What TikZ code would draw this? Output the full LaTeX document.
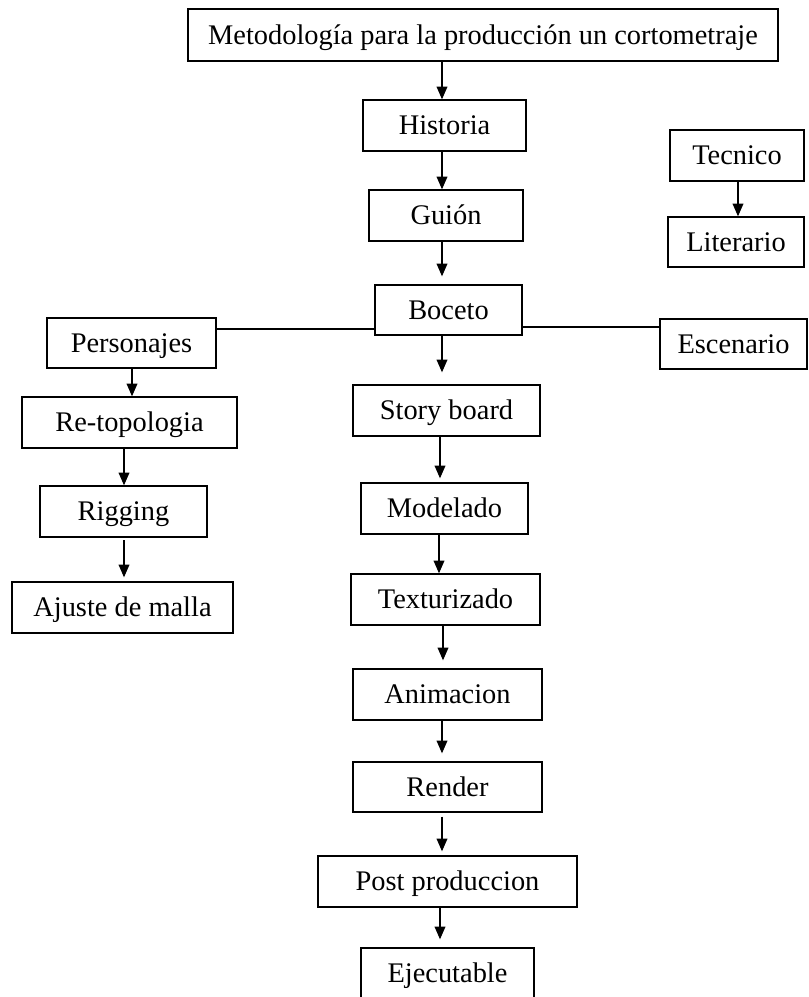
\documentclass[tikz,border=0pt]{standalone}
\usepackage{fontspec}
\setmainfont{Liberation Serif}
\usetikzlibrary{arrows.meta}
\def\px{0.75pt}
\tikzset{
  box/.style={draw=black, line width=1pt, rectangle, inner sep=0pt, fill=white,
    font=\fontsize{21.3}{24}\selectfont, text height=16pt, text depth=2pt},
  arr/.style={line width=1pt, -{Triangle[length=9.5pt,width=8pt]}},
  link/.style={line width=1pt}
}
\begin{document}
\begin{tikzpicture}[x=0.75pt,y=-0.75pt]
\useasboundingbox (0,0) rectangle (809,997);
\fill[white] (0,0) rectangle (809,997);
% central column
\node[box, minimum width=590*\px, minimum height=52*\px] (title) at (483,35) {Metodología para la producción un cortometraje};
\node[box, minimum width=163*\px, minimum height=51*\px] (hist) at (444.5,125.5) {Historia};
\node[box, minimum width=154*\px, minimum height=51*\px] (guion) at (446,215.5) {Guión};
\node[box, minimum width=147*\px, minimum height=50*\px] (boceto) at (448.5,310) {Boceto};
\node[box, minimum width=187*\px, minimum height=51*\px] (story) at (446.5,410.5) {Story board};
\node[box, minimum width=167*\px, minimum height=51*\px] (model) at (444.5,508.5) {Modelado};
\node[box, minimum width=189*\px, minimum height=51*\px] (text) at (445.5,599.5) {Texturizado};
\node[box, minimum width=189*\px, minimum height=51*\px] (anim) at (447.5,694.5) {Animacion};
\node[box, minimum width=189*\px, minimum height=50*\px] (render) at (447.5,787) {Render};
\node[box, minimum width=259*\px, minimum height=51*\px] (post) at (447.5,881.5) {Post produccion};
\node[box, minimum width=173*\px, minimum height=51*\px] (ejec) at (447.5,973.5) {Ejecutable};
% left column
\node[box, minimum width=169*\px, minimum height=50*\px] (pers) at (131.5,343) {Personajes};
\node[box, minimum width=215*\px, minimum height=51*\px] (retop) at (129.5,422.5) {Re-topologia};
\node[box, minimum width=167*\px, minimum height=51*\px] (rig) at (123.5,511.5) {Rigging};
\node[box, minimum width=221*\px, minimum height=51*\px] (ajuste) at (122.5,607.5) {Ajuste de malla};
% right side
\node[box, minimum width=147*\px, minimum height=50*\px] (esc) at (733.5,344) {Escenario};
\node[box, minimum width=134*\px, minimum height=51*\px] (tec) at (737,155.5) {Tecnico};
\node[box, minimum width=136*\px, minimum height=50*\px] (lit) at (736,242) {Literario};
% arrow columns
\coordinate (c442) at (442,0);
\coordinate (c440) at (440,0);
\coordinate (c439) at (439,0);
\coordinate (c443) at (443,0);
\coordinate (c132) at (132,0);
\coordinate (c124) at (124,0);
\coordinate (c738) at (738,0);
\coordinate (yl) at (0,329);
\coordinate (yr) at (0,327);
% arrows
\draw[arr] (title.south -| c442) -- (hist.north -| c442);
\draw[arr] (hist.south -| c442) -- (guion.north -| c442);
\draw[arr, shorten >=6pt] (guion.south -| c442) -- (boceto.north -| c442);
\draw[arr, shorten >=9pt] (boceto.south -| c442) -- (story.north -| c442);
\draw[arr, shorten >=3pt] (story.south -| c440) -- (model.north -| c440);
\draw[arr] (model.south -| c439) -- (text.north -| c439);
\draw[arr, shorten >=6pt] (text.south -| c443) -- (anim.north -| c443);
\draw[arr, shorten >=6pt] (anim.south -| c442) -- (render.north -| c442);
\draw[arr, shorten <=3pt, shorten >=3pt] (render.south -| c442) -- (post.north -| c442);
\draw[arr, shorten >=6pt] (post.south -| c440) -- (ejec.north -| c440);
\draw[arr] (pers.south -| c132) -- (retop.north -| c132);
\draw[arr] (retop.south -| c124) -- (rig.north -| c124);
\draw[arr, shorten <=2pt, shorten >=3pt] (rig.south -| c124) -- (ajuste.north -| c124);
\draw[arr] (tec.south -| c738) -- (lit.north -| c738);
% links
\draw[link] (boceto.west |- yl) -- (pers.east |- yl);
\draw[link] (boceto.east |- yr) -- (esc.west |- yr);
\end{tikzpicture}
\end{document}
